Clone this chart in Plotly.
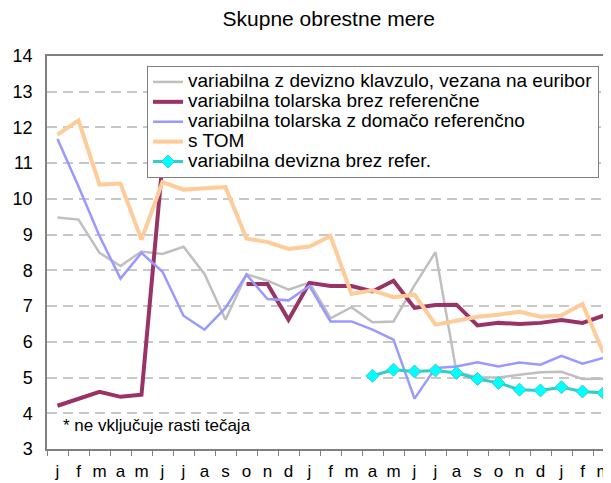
import plotly.graph_objects as go

# ---- data ----
month_keys = ["2004-%02d" % m for m in range(1, 13)] + ["2005-%02d" % m for m in range(1, 13)] + ["2006-%02d" % m for m in range(1, 4)]
month_labels = ["j", "f", "m", "a", "m", "j", "j", "a", "s", "o", "n", "d",
                "j", "f", "m", "a", "m", "j", "j", "a", "s", "o", "n", "d",
                "j", "f", "m"]

euribor = [9.48, 9.42, 8.49, 8.12, 8.53, 8.46, 8.66, 7.90, 6.62, 7.89, 7.71, 7.46,
           7.66, 6.66, 6.97, 6.55, 6.57, 7.58, 8.51, 5.15, 5.01, 5.00, 5.08, 5.15,
           5.16, 4.96, 4.97]
tolar_brez = [4.21, 4.40, 4.60, 4.46, 4.52, 11.0, None, None, None, 7.62, 7.62, 6.62,
              7.65, 7.56, 7.56, 7.41, 7.71, 6.95, 7.03, 7.04, 6.46, 6.53, 6.50, 6.53,
              6.61, 6.53, 6.73]
tolar_domaca = [11.68, 10.35, 8.96, 7.77, 8.49, 7.96, 6.73, 6.34, 6.95, 7.88, 7.20, 7.16,
                7.56, 6.57, 6.57, 6.34, 6.06, 4.41, 5.27, 5.31, 5.43, 5.31, 5.42, 5.36,
                5.61, 5.39, 5.55]
s_tom = [11.80, 12.20, 10.40, 10.43, 8.86, 10.47, 10.26, 10.30, 10.33, 8.89, 8.79, 8.60,
         8.67, 8.96, 7.34, 7.44, 7.25, 7.32, 6.48, 6.59, 6.70, 6.76, 6.84, 6.70,
         6.74, 7.06, 5.69]
devizna_brez = [None] * 15 + [5.05, 5.22, 5.17, 5.20, 5.13, 4.96, 4.85, 4.66, 4.64,
                              4.73, 4.61, 4.57]

names = ["variabilna z devizno klavzulo, vezana na euribor",
         "variabilna tolarska brez referenčne",
         "variabilna tolarska z domačo referenčno",
         "s TOM",
         "variabilna devizna brez refer."]

title_text = "Skupne obrestne mere"
note_text = "* ne vključuje rasti tečaja"
y_ticks = list(range(3, 15))

FONT = "Arial, 'Liberation Sans', sans-serif"

def lg(name):
    return '<span style="font-size:19px">' + name + '</span>'

fig = go.Figure()
fig.add_trace(go.Scatter(x=month_keys, y=euribor, name=lg(names[0]), mode="lines",
                         line=dict(color="#BFBFBF", width=2.5)))
fig.add_trace(go.Scatter(x=month_keys, y=tolar_brez, name=lg(names[1]), mode="lines",
                         line=dict(color="#993366", width=4)))
fig.add_trace(go.Scatter(x=month_keys, y=tolar_domaca, name=lg(names[2]), mode="lines",
                         line=dict(color="#9999FF", width=2.5)))
fig.add_trace(go.Scatter(x=month_keys, y=s_tom, name=lg(names[3]), mode="lines",
                         line=dict(color="#FFCC99", width=4)))
fig.add_trace(go.Scatter(x=month_keys, y=devizna_brez, name=lg(names[4]), mode="lines+markers",
                         line=dict(color="#33CCCC", width=3),
                         marker=dict(symbol="diamond", size=10, color="#00FFFF",
                                     line=dict(color="#33CCCC", width=1))))

# page body has an 8px margin; layout is offset accordingly
fig.update_layout(
    width=611, height=483,
    margin=dict(l=39, r=5, t=48, b=42, autoexpand=False),
    paper_bgcolor="white", plot_bgcolor="white",
    font=dict(family=FONT, color="black"),
    title=dict(text=title_text, x=0.525, xref="container", xanchor="center",
               y=0.978, yref="container", yanchor="middle", font=dict(size=21)),
    showlegend=True,
    legend=dict(x=0.1764, xanchor="left", y=0.9746, yanchor="top",
                bgcolor="white", bordercolor="#808080", borderwidth=1,
                font=dict(size=13, family=FONT), tracegroupgap=0),
    annotations=[dict(text=note_text, xref="paper", yref="paper", x=0.0247, y=0.061,
                      xanchor="left", yanchor="middle", showarrow=False,
                      font=dict(size=17, family=FONT))],
)

fig.update_xaxes(type="category", range=[-0.5, 26.5], automargin=False,
                 tickmode="array", tickvals=month_keys, ticktext=month_labels,
                 tickson="boundaries", ticks="outside", ticklen=5, tickcolor="#808080",
                 tickangle=0,
                 showline=True, linecolor="#808080", linewidth=1.5, mirror=True,
                 showgrid=False, tickfont=dict(size=17), ticklabelstandoff=6)
fig.update_yaxes(range=[3, 14], tickmode="array", tickvals=y_ticks, automargin=False,
                 showgrid=True, gridcolor="#C8C8C8", gridwidth=1.5, griddash="10px,6px",
                 showline=True, linecolor="#808080", linewidth=1.5, mirror=True,
                 ticks="", tickfont=dict(size=18), ticklabelstandoff=9, zeroline=False)

fig.write_html("out.html")
